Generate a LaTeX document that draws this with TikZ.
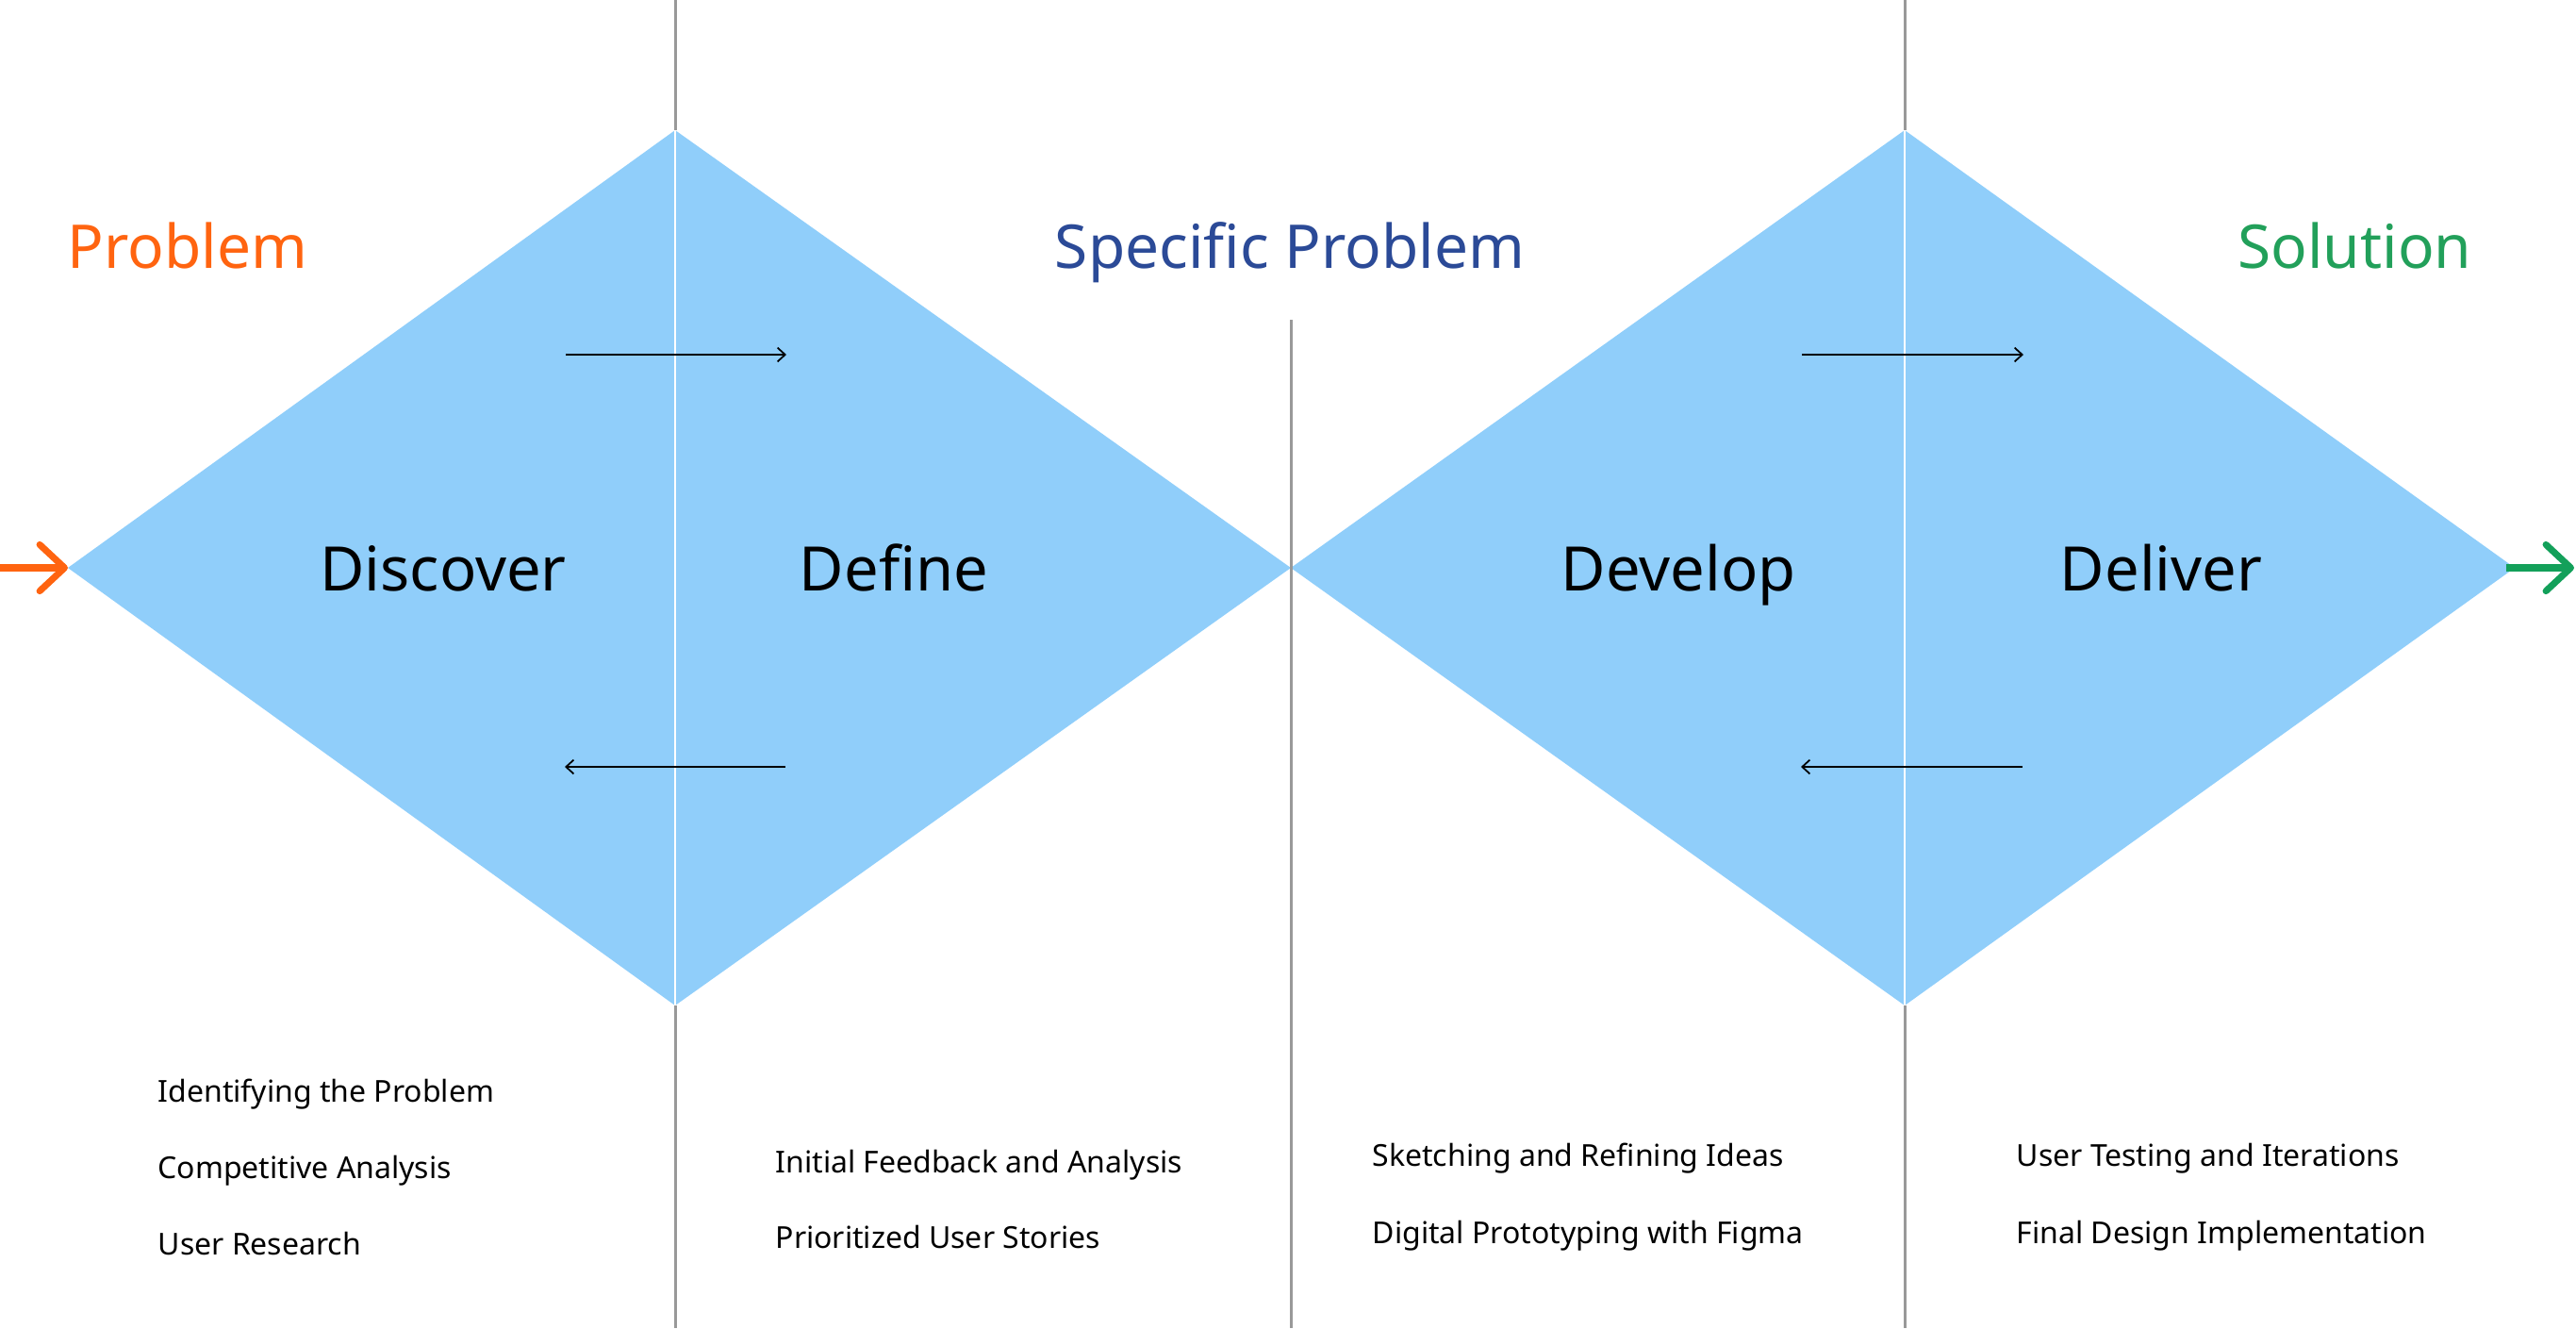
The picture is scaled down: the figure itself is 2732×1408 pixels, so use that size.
\documentclass[tikz,border=0pt]{standalone}
\usepackage{fontspec}
\setmainfont{Noto Sans}
\usetikzlibrary{arrows.meta}
\definecolor{dblue}{RGB}{144,206,250}
\definecolor{lgray}{RGB}{153,153,153}
\definecolor{porange}{RGB}{255,100,16}
\definecolor{sblue}{RGB}{43,74,151}
\definecolor{sgreen}{RGB}{34,160,90}
\definecolor{agreen}{RGB}{19,160,90}
\tikzset{
  phase/.style={anchor=base, inner sep=0pt, font=\fontsize{18.5}{22}\selectfont},
  title/.style={inner sep=0pt, font=\fontsize{18.2}{22}\selectfont},
  item/.style={anchor=base west, inner sep=0pt, font=\fontsize{9.1}{11}\selectfont},
  grayline/.style={draw=lgray, line width=0.85pt},
  whiteline/.style={draw=white, line width=0.6pt},
  flow/.style={draw=black, line width=0.5pt, -{Straight Barb[length=2.3pt,width=4.2pt]}},
  bigarrow/.style={line width=2pt, -{Straight Barb[length=7.5pt,width=14pt,round]}}
}
\begin{document}
\begin{tikzpicture}[x=0.01cm,y=-0.01cm]
\useasboundingbox (0,0) rectangle (2732,1408);
% diamond vertices
\coordinate (L1) at (72,602);
\coordinate (T1) at (716,138);
\coordinate (M) at (1369,602);
\coordinate (B1) at (716,1066);
\coordinate (T2) at (2020,138);
\coordinate (B2) at (2020,1066);
\coordinate (R2) at (2667,602);
\fill[dblue] (L1) -- (T1) -- (M) -- (B1) -- cycle;
\fill[dblue] (M) -- (T2) -- (R2) -- (B2) -- cycle;
% vertical lines
\coordinate (v1top) at (716,0);
\coordinate (v1bot) at (716,1408);
\coordinate (v2top) at (2020,0);
\coordinate (v2bot) at (2020,1408);
\coordinate (v3top) at (1369,339);
\coordinate (v3bot) at (1369,1408);
\draw[grayline] (v1top) -- (T1);
\draw[grayline] (B1) -- (v1bot);
\draw[whiteline] (T1) -- (B1);
\draw[grayline] (v2top) -- (T2);
\draw[grayline] (B2) -- (v2bot);
\draw[whiteline] (T2) -- (B2);
\draw[grayline] (v3top) -- (v3bot);
% flow arrows
\coordinate (a1s) at (600,376); \coordinate (a1e) at (834,376);
\coordinate (a2s) at (833,813); \coordinate (a2e) at (599,813);
\coordinate (a3s) at (1911,376); \coordinate (a3e) at (2146,376);
\coordinate (a4s) at (2145,813); \coordinate (a4e) at (1910,813);
\draw[flow] (a1s) -- (a1e);
\draw[flow] (a2s) -- (a2e);
\draw[flow] (a3s) -- (a3e);
\draw[flow] (a4s) -- (a4e);
% in / out arrows
\coordinate (inL) at (0,602);
\coordinate (outS) at (2658,602);
\coordinate (outE) at (2730,602);
\draw[bigarrow, draw=porange] (inL) -- (L1);
\draw[bigarrow, draw=agreen] (outS) -- (outE);
% titles
\node[title, anchor=base west, text=porange] (tprob) at (71,284) {Problem};
\node[title, anchor=base, text=sblue] (tspec) at (1368,284) {Specific Problem};
\node[title, anchor=base east, text=sgreen] (tsol) at (2622,284) {Solution};
% phases
\node[phase] (discover) at (470,626) {Discover};
\node[phase] (define) at (948,626) {Define};
\node[phase] (develop) at (1780,626) {Develop};
\node[phase] (deliver) at (2292,626) {Deliver};
% lists
\node[item] (i1) at (167,1168) {Identifying the Problem};
\node[item] (i2) at (167,1249) {Competitive Analysis};
\node[item] (i3) at (167,1330) {User Research};
\node[item] (i4) at (822,1243) {Initial Feedback and Analysis};
\node[item] (i5) at (822,1323) {Prioritized User Stories};
\node[item] (i6) at (1455,1236) {Sketching and Refining Ideas};
\node[item] (i7) at (1455,1318) {Digital Prototyping with Figma};
\node[item] (i8) at (2138,1236) {User Testing and Iterations};
\node[item] (i9) at (2138,1318) {Final Design Implementation};
\end{tikzpicture}
\end{document}
